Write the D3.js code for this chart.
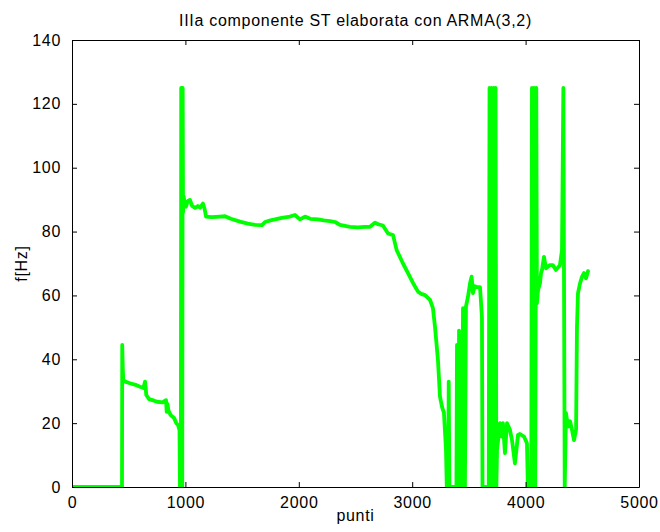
<!DOCTYPE html>
<html>
<head>
<meta charset="utf-8">
<script src="https://cdn.jsdelivr.net/npm/d3@7"></script>
<style>
  html, body { margin: 0; padding: 0; background: #fff; }
  text { font-family: "Liberation Sans", Arial, Helvetica, sans-serif; fill: #000; letter-spacing: 0.7px; }
</style>
</head>
<body>
<svg id="chart" width="660" height="532"></svg>
<script>
const chartTitle = "IIIa componente ST elaborata con ARMA(3,2)";
const xLabel = "punti";
const yLabel = "f[Hz]";
const xTicks = [0, 1000, 2000, 3000, 4000, 5000];
const yTicks = [0, 20, 40, 60, 80, 100, 120, 140];

const punti = [
  0, 441, 443, 447, 452, 470, 511, 560, 600, 630, 644, 650, 655, 680, 710, 750, 800, 829, 835, 842,
  850, 870, 900, 920, 935, 948, 952, 960, 963, 968, 972, 976, 979, 985, 995, 1005, 1020, 1040, 1060, 1085,
  1110, 1130, 1155, 1170, 1182, 1230, 1305, 1350, 1400, 1481, 1550, 1614, 1675, 1702, 1750, 1790, 1850, 1922, 1966, 2010,
  2055, 2100, 2170, 2220, 2275, 2320, 2363, 2451, 2520, 2584, 2628, 2672, 2700, 2742, 2787, 2831, 2863, 2875, 2919, 2963,
  3007, 3051, 3080, 3113, 3157, 3183, 3201, 3227, 3245, 3263, 3280, 3298, 3305, 3318, 3322, 3328, 3390, 3395, 3400, 3408,
  3413, 3418, 3430, 3435, 3440, 3448, 3455, 3465, 3474, 3492, 3510, 3524, 3536, 3550, 3571, 3598, 3615, 3620, 3675, 3682,
  3692, 3700, 3710, 3718, 3728, 3735, 3742, 3748, 3774, 3790, 3800, 3818, 3836, 3862, 3880, 3906, 3933, 3950, 3986, 4012,
  4020, 4050, 4056, 4066, 4075, 4085, 4094, 4100, 4110, 4127, 4136, 4145, 4162, 4180, 4215, 4240, 4268, 4303, 4321, 4333,
  4345, 4356, 4374, 4392, 4409, 4427, 4445, 4453, 4462, 4480, 4498, 4515, 4533, 4550
];
const freqHz = [
  0, 0, 44.5, 38, 33.5, 33, 32.5, 32, 31.4, 31, 33, 31, 28.8, 27.5, 27.2, 26.7, 26.5, 27.2, 23.5, 26,
  24, 22.5, 21.6, 20, 19.4, 17.8, 0, 0, 125, 125, 0, 125, 86, 91, 88, 87.8, 89.5, 89.9, 88, 87.4,
  88, 87.5, 88.8, 87, 84.7, 84.5, 84.7, 84.8, 84, 83.1, 82.5, 82.1, 82, 83, 83.5, 83.8, 84.3, 84.7, 85.2, 83.8,
  84.7, 84, 83.8, 83.5, 83.3, 83, 82.1, 81.5, 81.3, 81.5, 81.5, 82.8, 82.3, 81.9, 79.4, 78.9, 74.2, 73.3, 70, 67,
  63.9, 61.2, 60.5, 60.1, 58.6, 56, 50.2, 39.8, 28.3, 25.1, 23.2, 11.6, 0, 0, 33, 0, 0, 44.5, 0, 0,
  49, 0, 0, 45, 0, 56, 0, 0, 56.5, 59.6, 63.8, 65.9, 60.7, 62.9, 62.6, 62.6, 53.3, 0, 0, 125,
  0, 125, 0, 125, 0, 125, 0, 11.6, 20, 15.8, 20, 10.6, 20, 17.9, 14.7, 7.4, 16.3, 16.6, 15.8, 13.7,
  0, 0, 125, 0, 125, 0, 125, 57.5, 61.7, 63.8, 67, 68, 72.1, 68.5, 69.5, 69.5, 68, 69.5, 74.2, 125,
  0, 23.2, 18.9, 20.6, 17.9, 14.7, 18, 50, 60.7, 63.8, 65.9, 67, 65.4, 67.6
];

const data = punti.map((p, i) => ({ x: p, y: freqHz[i] }));

const svg = d3.select("#chart");
const margin = { left: 72, top: 40, right: 21, bottom: 45 };
const W = 660, H = 532;
const x = d3.scaleLinear().domain([0, 5000]).range([margin.left, W - margin.right]);
const y = d3.scaleLinear().domain([0, 140]).range([H - margin.bottom, margin.top]);

svg.append("defs").append("clipPath").attr("id", "clip")
  .append("rect").attr("x", margin.left).attr("y", margin.top)
  .attr("width", x.range()[1] - x.range()[0]).attr("height", y.range()[0] - y.range()[1]);

const line = d3.line().x(d => x(d.x)).y(d => y(d.y));
svg.append("path").datum(data)
  .attr("clip-path", "url(#clip)")
  .attr("d", line)
  .attr("fill", "none")
  .attr("stroke", "#00ff00")
  .attr("stroke-width", 3.8)
  .attr("stroke-linejoin", "round")
  .attr("stroke-linecap", "round");

const tick = 5;
const xAxisB = d3.axisBottom(x).tickValues(xTicks).tickSizeInner(-tick).tickSizeOuter(0).tickPadding(10).tickFormat(d3.format("d"));
const xAxisT = d3.axisTop(x).tickValues(xTicks).tickSizeInner(-tick).tickSizeOuter(0).tickFormat("");
const yAxisL = d3.axisLeft(y).tickValues(yTicks).tickSizeInner(-tick).tickSizeOuter(0).tickPadding(11).tickFormat(d3.format("d"));
const yAxisR = d3.axisRight(y).tickValues(yTicks).tickSizeInner(-tick).tickSizeOuter(0).tickFormat("");

function style(g) {
  g.selectAll("path.domain").attr("stroke", "#000").attr("stroke-width", 1);
  g.selectAll(".tick line").attr("stroke", "#000").attr("stroke-width", 1);
  g.selectAll(".tick text").attr("font-size", 16).attr("font-family", "'Liberation Sans', Arial, sans-serif").attr("fill", "#000");
}
svg.append("g").attr("transform", `translate(0,${y(0)})`).call(xAxisB).call(style);
svg.append("g").attr("transform", `translate(0,${y(140)})`).call(xAxisT).call(style);
svg.append("g").attr("transform", `translate(${x(0)},0)`).call(yAxisL).call(style);
svg.append("g").attr("transform", `translate(${x(5000)},0)`).call(yAxisR).call(style);

svg.append("text").attr("x", (x(0) + x(5000)) / 2).attr("y", 26)
  .attr("text-anchor", "middle").attr("font-size", 16).text(chartTitle);
svg.append("text").attr("x", (x(0) + x(5000)) / 2).attr("y", 521)
  .attr("text-anchor", "middle").attr("font-size", 16).text(xLabel);
svg.append("text").attr("transform", `translate(27,${(y(0) + y(140)) / 2}) rotate(-90)`)
  .attr("text-anchor", "middle").attr("font-size", 16).text(yLabel);
</script>
</body>
</html>
